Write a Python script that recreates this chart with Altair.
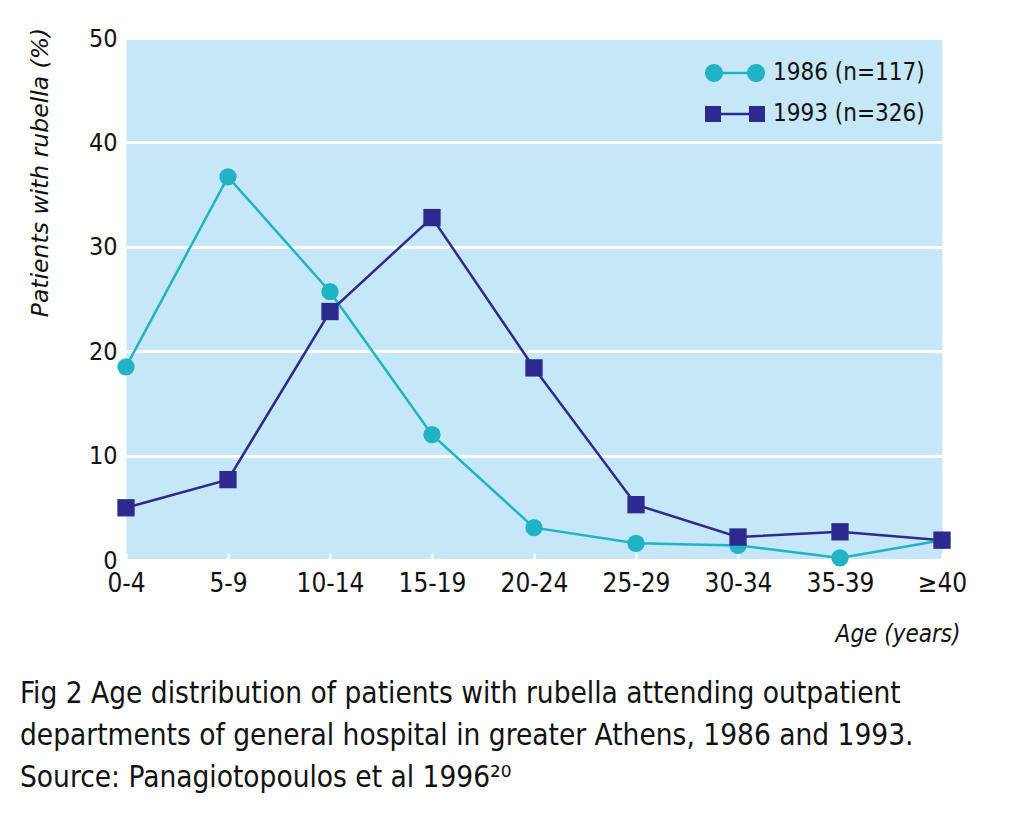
import altair as alt
import pandas as pd

ages = ["0-4", "5-9", "10-14", "15-19", "20-24", "25-29", "30-34", "35-39", "\u226540"]
series_names = ["1986 (n=117)", "1993 (n=326)"]
values_1986 = [18.5, 36.7, 25.7, 12.0, 3.1, 1.6, 1.4, 0.2, 1.9]
values_1993 = [5.0, 7.7, 23.8, 32.8, 18.4, 5.3, 2.2, 2.7, 1.9]
colors = ["#1fb3c3", "#2c2a8e"]
caption = [
    "Fig 2  Age distribution of patients with rubella attending outpatient",
    "departments of general hospital in greater Athens, 1986 and 1993.",
    "Source: Panagiotopoulos et al 1996\u00b2\u2070",
]

rows = []
for a, v in zip(ages, values_1986):
    rows.append({"age": a, "pct": v, "series": series_names[0]})
for a, v in zip(ages, values_1993):
    rows.append({"age": a, "pct": v, "series": series_names[1]})
df = pd.DataFrame(rows)

FONT = "DejaVu Sans Condensed, Liberation Sans Narrow, Roboto Condensed, Roboto, sans-serif"
TFONT = "DejaVu Sans, Roboto, sans-serif"

circle_leg = ("M-2.1,-0.12 L2.1,-0.12 L2.1,0.12 L-2.1,0.12 Z "
              "M-3,0 A0.9,0.9 0 1,1 -1.2,0 A0.9,0.9 0 1,1 -3,0 Z "
              "M1.2,0 A0.9,0.9 0 1,1 3,0 A0.9,0.9 0 1,1 1.2,0 Z")
square_leg = ("M-2.1,-0.12 L2.1,-0.12 L2.1,0.12 L-2.1,0.12 Z "
              "M-3,-0.8 L-1.4,-0.8 L-1.4,0.8 L-3,0.8 Z "
              "M1.4,-0.8 L3,-0.8 L3,0.8 L1.4,0.8 Z")
legend_paths = [circle_leg, square_leg]
legend_y = [23, 64]

x_enc = alt.X(
    "age:N", sort=ages,
    scale=alt.Scale(type="point", padding=0),
    axis=alt.Axis(
        title="Age (years)", titleFont=FONT, titleFontSize=24, titleFontStyle="italic",
        titleFontWeight="normal", titleAnchor="end", titleAlign="right",
        titleX=834, titleY=81, titleBaseline="middle", titleColor="#111",
        labelAngle=0, labelFont=FONT, labelFontSize=26, labelPadding=10,
        labelColor="#111", domain=False, ticks=True, tickColor="white",
        tickSize=7, tickWidth=2, offset=-7, grid=False,
    ),
)
y_enc = alt.Y(
    "pct:Q",
    scale=alt.Scale(domain=[0, 50]),
    axis=alt.Axis(
        title="Patients with rubella (%)", titleFont=TFONT, titleFontSize=23.5,
        titleFontStyle="italic", titleFontWeight="normal", titleColor="#111",
        titleX=-86, titleY=134, titleAngle=-90, titleAlign="center", titleBaseline="middle",
        values=[0, 10, 20, 30, 40, 50], labelFont=FONT, labelFontSize=25,
        labelPadding=9, labelColor="#111", domain=False, ticks=False,
        grid=True, gridColor="white", gridWidth=3,
    ),
)
color_scale = alt.Scale(domain=series_names, range=colors)
color_enc = alt.Color("series:N", scale=color_scale, legend=None)

lines = alt.Chart(df).mark_line(strokeWidth=2.5, clip=False).encode(
    x=x_enc, y=y_enc, color=color_enc, detail="series:N"
)
points = alt.Chart(df).mark_point(filled=True, size=300, opacity=1, clip=False).encode(
    x=x_enc, y=y_enc, color=color_enc,
    shape=alt.Shape("series:N", scale=alt.Scale(domain=series_names, range=["circle", "square"]), legend=None),
)

legend_layers = []
for name, col, path, ly in zip(series_names, colors, legend_paths, legend_y):
    legend_layers.append(
        alt.Chart(df).transform_filter("false").mark_point(filled=True, opacity=1, color=col, fill=col).encode(
            x=x_enc, y=y_enc,
            shape=alt.Shape(
                "series:N",
                scale=alt.Scale(domain=[name], range=[path]),
                legend=alt.Legend(
                    title=None, orient="none", legendX=597, legendY=ly,
                    symbolSize=400, labelFont=FONT, labelFontSize=24,
                    labelColor="#111", labelOffset=26,
                    symbolFillColor=col, symbolStrokeWidth=0, symbolOpacity=1,
                ),
            ),
        )
    )

chart = alt.layer(lines, points, *legend_layers).resolve_scale(shape="independent").properties(
    width=816, height=522,
    autosize=alt.AutoSizeParams(type="none"),
    padding={"left": 118, "top": 30, "right": 74, "bottom": 252},
    title=alt.TitleParams(
        text=caption, orient="bottom", anchor="start", frame="group", dx=-106, offset=34,
        font=FONT, fontSize=29.5, fontWeight="normal", lineHeight=42, color="#111",
    ),
).configure(background="white", view=alt.ViewConfig(fill="#c6e7f8", stroke="transparent"))

chart.save("out.html", embed_options={"renderer": "svg", "actions": False})
